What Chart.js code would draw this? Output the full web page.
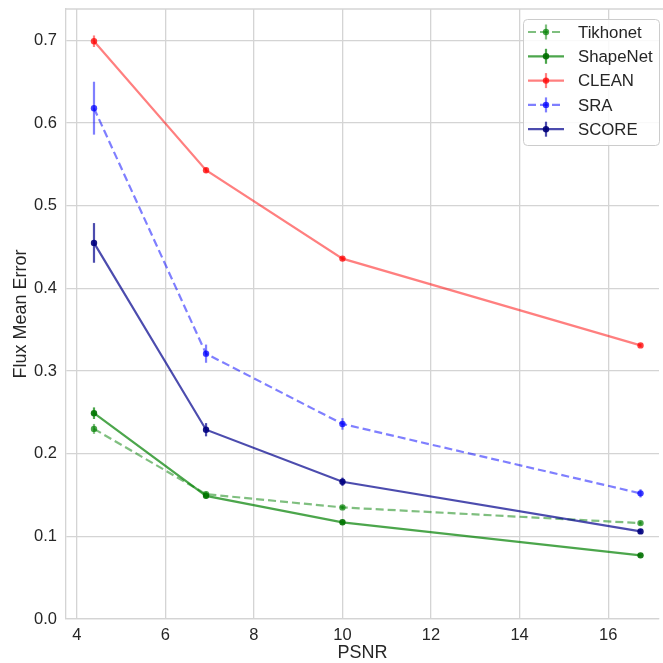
<!DOCTYPE html>
<html>
<head>
<meta charset="utf-8">
<script src="https://cdn.jsdelivr.net/npm/chart.js@4.4.1/dist/chart.umd.min.js"></script>
<style>
  html, body { margin: 0; padding: 0; background: #fff; }
  #wrap { width: 663px; height: 663px; }
</style>
</head>
<body>
<div id="wrap"><canvas id="myChart" width="663" height="663"></canvas></div>
<script>
// PSNR levels (x) and tick labels
const psnr = [4.39, 6.92, 10.0, 16.73];
const xTicks = [4, 6, 8, 10, 12, 14, 16];
const yTicks = [0.0, 0.1, 0.2, 0.3, 0.4, 0.5, 0.6, 0.7];

// Flux mean error per method, with error bar half-widths
const labels = ['Tikhonet', 'ShapeNet', 'CLEAN', 'SRA', 'SCORE'];
const tikhonet = [0.230, 0.151, 0.135, 0.116];
const tikhonetErr = [0.006, 0.003, 0.002, 0.002];
const shapenet = [0.249, 0.149, 0.117, 0.077];
const shapenetErr = [0.007, 0.003, 0.002, 0.001];
const clean = [0.699, 0.543, 0.436, 0.331];
const cleanErr = [0.007, 0.003, 0.002, 0.002];
const sra = [0.618, 0.321, 0.236, 0.152];
const sraErr = [0.032, 0.011, 0.007, 0.005];
const score = [0.455, 0.229, 0.166, 0.106];
const scoreErr = [0.024, 0.008, 0.005, 0.003];

const FONT = '"Liberation Sans", Arial, sans-serif';
const TEXT = '#262626';
const GRID = '#d4d4d4';

const styles = [
    { line: 'rgba(0,128,0,0.5)', point: 'rgba(0,128,0,0.7)', dash: [8, 4] },
    { line: 'rgba(0,128,0,0.7)', point: 'rgba(0,110,0,0.9)', dash: [] },
    { line: 'rgba(255,0,0,0.5)', point: 'rgba(255,0,0,0.75)', dash: [] },
    { line: 'rgba(0,0,255,0.5)', point: 'rgba(0,0,255,0.75)', dash: [8, 4] },
    { line: 'rgba(0,0,139,0.7)', point: 'rgba(0,0,120,0.9)', dash: [] },
];

const series = [tikhonet, shapenet, clean, sra, score];
const errors = [tikhonetErr, shapenetErr, cleanErr, sraErr, scoreErr];

const datasets = labels.map((label, i) => ({
    label: label,
    data: psnr.map((x, j) => ({ x: x, y: series[i][j] })),
    errors: errors[i],
    borderColor: styles[i].line,
    borderDash: styles[i].dash,
    borderWidth: 2.2,
    pointRadius: 3.2,
    pointBorderWidth: 0,
    pointBackgroundColor: styles[i].point,
    tension: 0,
    fill: false,
    order: labels.length - i,
}));

// vertical error bars, drawn through the scales
const errorBars = {
    id: 'errorBars',
    afterDatasetsDraw(chart) {
        const { ctx, scales: { x, y } } = chart;
        chart.data.datasets.forEach((ds, i) => {
            ctx.save();
            ctx.strokeStyle = styles[i].line;
            ctx.lineWidth = 2.2;
            ds.data.forEach((p, j) => {
                const px = x.getPixelForValue(p.x);
                ctx.beginPath();
                ctx.moveTo(px, y.getPixelForValue(p.y - ds.errors[j]));
                ctx.lineTo(px, y.getPixelForValue(p.y + ds.errors[j]));
                ctx.stroke();
            });
            ctx.restore();
        });
    },
};

// top spine + legend box in the top-right corner
const frameAndLegend = {
    id: 'frameAndLegend',
    afterDraw(chart) {
        const { ctx, chartArea } = chart;
        ctx.save();
        ctx.strokeStyle = GRID;
        ctx.lineWidth = 1.3;
        ctx.beginPath();
        ctx.moveTo(chartArea.left, chartArea.top);
        ctx.lineTo(chartArea.right + 10, chartArea.top);
        ctx.stroke();

        const bx = 523, by = 19, bw = 136, bh = 126;
        ctx.fillStyle = 'rgba(255,255,255,0.85)';
        ctx.strokeStyle = '#cccccc';
        ctx.lineWidth = 1;
        ctx.beginPath();
        ctx.roundRect(bx + 0.5, by + 0.5, bw, bh, 4);
        ctx.fill();
        ctx.stroke();

        chart.data.datasets.forEach((ds, i) => {
            const yy = 32 + i * 24.3;
            ctx.strokeStyle = styles[i].line;
            ctx.lineWidth = 2.2;
            ctx.setLineDash(styles[i].dash);
            ctx.beginPath();
            ctx.moveTo(528, yy);
            ctx.lineTo(564, yy);
            ctx.stroke();
            ctx.setLineDash([]);
            ctx.beginPath();
            ctx.moveTo(546, yy - 7.5);
            ctx.lineTo(546, yy + 7.5);
            ctx.stroke();
            ctx.fillStyle = styles[i].point;
            ctx.beginPath();
            ctx.arc(546, yy, 3.2, 0, Math.PI * 2);
            ctx.fill();

            ctx.fillStyle = TEXT;
            ctx.font = '16.8px ' + FONT;
            ctx.textBaseline = 'middle';
            ctx.textAlign = 'left';
            ctx.fillText(ds.label, 578, yy + 1);
        });
        ctx.restore();
    },
};

const ctx = document.getElementById('myChart');
new Chart(ctx, {
    type: 'line',
    data: { datasets: datasets },
    options: {
        responsive: false,
        animation: false,
        layout: { padding: { top: 9, right: 0, left: 0, bottom: 0 } },
        plugins: {
            legend: { display: false },
            tooltip: { enabled: false },
        },
        scales: {
            x: {
                type: 'linear',
                min: 3.758,
                max: 17.147,
                afterBuildTicks: (s) => { s.ticks = xTicks.map((v) => ({ value: v })); },
                afterFit: (s) => {
                    s.height = 44;
                    s.paddingLeft = 0;
                    s.paddingRight = 0;
                },
                border: { color: GRID, width: 1.3 },
                grid: { color: GRID, lineWidth: 1.3, drawTicks: false },
                ticks: {
                    color: TEXT,
                    padding: 7,
                    font: { family: FONT, size: 16.5 },
                    callback: (v) => String(v),
                },
                title: {
                    display: true,
                    text: 'PSNR',
                    color: TEXT,
                    padding: { top: 0, bottom: -1 },
                    font: { family: FONT, size: 18 },
                },
            },
            y: {
                type: 'linear',
                min: 0,
                max: 0.738,
                afterBuildTicks: (s) => { s.ticks = yTicks.map((v) => ({ value: v })); },
                afterFit: (s) => {
                    s.width = 66;
                    s.paddingTop = 0;
                    s.paddingBottom = 0;
                },
                border: { color: GRID, width: 1.3 },
                grid: { color: GRID, lineWidth: 1.3, drawTicks: false },
                ticks: {
                    color: TEXT,
                    padding: 9,
                    font: { family: FONT, size: 16.5 },
                    callback: (v) => v.toFixed(1),
                },
                title: {
                    display: true,
                    text: 'Flux Mean Error',
                    color: TEXT,
                    padding: { top: 10, bottom: 0 },
                    font: { family: FONT, size: 18 },
                },
            },
        },
    },
    plugins: [errorBars, frameAndLegend],
});
</script>
</body>
</html>
